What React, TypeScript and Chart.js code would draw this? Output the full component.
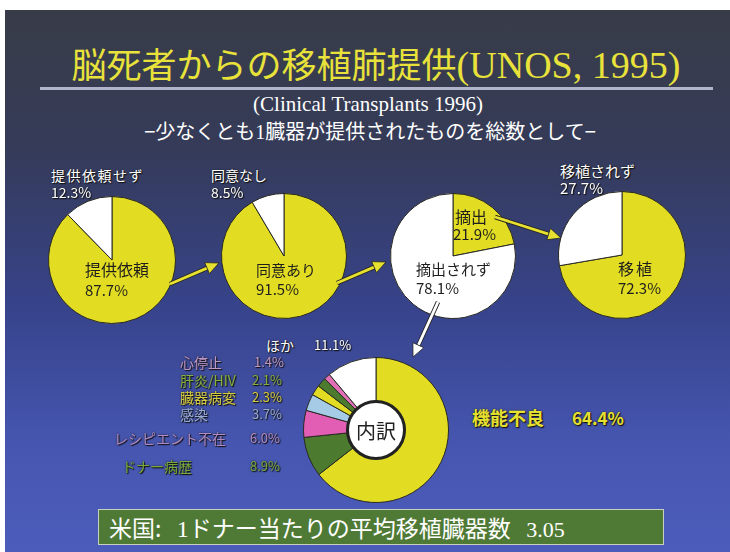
import React, { useEffect, useRef } from "react";
import { Chart, registerables } from "chart.js";

Chart.register(...registerables);

// ---- data ----
const requestLabels = ["提供依頼", "提供依頼せず"];
const requestValues = [87.7, 12.3];
const consentLabels = ["同意あり", "同意なし"];
const consentValues = [91.5, 8.5];
const procureLabels = ["摘出", "摘出されず"];
const procureValues = [21.9, 78.1];
const transplantLabels = ["移植", "移植されず"];
const transplantValues = [72.3, 27.7];
const reasonLabels = ["機能不良", "ドナー病歴", "レシピエント不在", "感染", "臓器病変", "肝炎/HIV", "心停止", "ほか"];
const reasonValues = [64.4, 8.9, 6.0, 3.7, 2.3, 2.1, 1.4, 11.1];
const avgOrgans = 3.05;

// ---- styles ----
const YELLOW = "#e2dd22";
const WHITE = "#ffffff";
const reasonColors = [YELLOW, "#4c7a2e", "#e25eb4", "#a6cbe6", YELLOW, "#4c7a2e", "#e070b6", WHITE];
const reasonTextColors = ["#e6e030", "#78a83a", "#b08ac8", "#98acd8", "#d6cc40", "#86b040", "#c098c8", "#ffffff"];

const JP = '"Noto Sans CJK JP", "Noto Sans", sans-serif';
const SERIF = '"Liberation Serif", "DejaVu Serif", serif';

function fmt(v: number) {
  return v.toFixed(1) + "%";
}

type PieProps = {
  labels: string[];
  values: number[];
  colors: string[];
  cx: number;
  cy: number;
  r: number;
  cutout?: string;
};

function Pie({ labels, values, colors, cx, cy, r, cutout }: PieProps) {
  const ref = useRef<HTMLCanvasElement | null>(null);
  const size = r * 2 + 2;
  useEffect(() => {
    if (!ref.current) return;
    const chart = new Chart(ref.current, {
      type: "doughnut",
      data: {
        labels,
        datasets: [
          {
            data: values,
            backgroundColor: colors,
            borderColor: "#2a2a22",
            borderWidth: 1,
          },
        ],
      },
      options: {
        cutout: cutout || 0,
        responsive: false,
        animation: false,
        events: [],
        layout: { padding: 0 },
        plugins: { legend: { display: false }, tooltip: { enabled: false } },
      },
    });
    return () => chart.destroy();
  }, []);
  return (
    <canvas
      ref={ref}
      width={size}
      height={size}
      style={{ position: "absolute", left: cx - size / 2, top: cy - size / 2, width: size, height: size }}
    />
  );
}

type LblProps = {
  x: number;
  y: number;
  text: string;
  color?: string;
  size?: number;
  shadow?: boolean;
  bold?: boolean;
  family?: string;
  spacing?: number;
};

function Lbl({ x, y, text, color = "#fff", size = 14, shadow = false, bold = false, family = JP, spacing = 0 }: LblProps) {
  return (
    <div
      style={{
        position: "absolute",
        left: x,
        top: y,
        color,
        fontSize: size,
        lineHeight: 1,
        fontFamily: family,
        fontWeight: bold ? 700 : 400,
        letterSpacing: spacing,
        whiteSpace: "nowrap",
        textShadow: shadow ? "1px 1px 1px #111, 0 0 2px #222" : "none",
      }}
    >
      {text}
    </div>
  );
}

function Arrow({ x1, y1, x2, y2, color }: { x1: number; y1: number; x2: number; y2: number; color: string }) {
  const ang = Math.atan2(y2 - y1, x2 - x1);
  const hl = 13;
  const hw = 6;
  const bx = x2 - hl * Math.cos(ang);
  const by = y2 - hl * Math.sin(ang);
  const px = -Math.sin(ang) * hw;
  const py = Math.cos(ang) * hw;
  const pts = `${x2},${y2} ${bx + px},${by + py} ${bx - px},${by - py}`;
  return (
    <g>
      <line x1={x1} y1={y1} x2={bx} y2={by} stroke="#222" strokeWidth={4.5} />
      <line x1={x1} y1={y1} x2={bx} y2={by} stroke={color} strokeWidth={2.8} />
      <polygon points={pts} fill={color} stroke="#222" strokeWidth={0.8} />
    </g>
  );
}

export default function App() {
  const legendRows = [
    { i: 6, x: 180, y: 355, vx: 254 },
    { i: 5, x: 180, y: 373, vx: 252 },
    { i: 4, x: 180, y: 390, vx: 252 },
    { i: 3, x: 180, y: 407, vx: 252 },
    { i: 2, x: 114, y: 431, vx: 250 },
    { i: 1, x: 122, y: 459, vx: 250 },
  ];
  return (
    <div style={{ position: "absolute", left: 0, top: 0, width: 730, height: 552, background: "#fff", overflow: "hidden" }}>
      <div
        style={{
          position: "absolute",
          left: 5,
          top: 10,
          width: 725,
          height: 542,
          background: "linear-gradient(to bottom, #383c48 0%, #353b58 25%, #37438b 55%, #4656b0 80%, #4c5cba 100%)",
        }}
      />
      {/* title */}
      <div
        style={{
          position: "absolute",
          left: 6,
          width: 740,
          top: 45,
          textAlign: "center",
          color: "#e8e23a",
          fontSize: 35,
          lineHeight: 1,
          whiteSpace: "nowrap",
          fontFamily: JP,
        }}
      >
        <span style={{ fontFamily: JP }}>脳死者からの移植肺提供</span>
        <span style={{ fontFamily: SERIF, fontSize: 38 }}>(UNOS, 1995)</span>
      </div>
      <div style={{ position: "absolute", left: 40, top: 87, width: 673, height: 3, background: "#b2b4cc" }} />
      <div
        style={{
          position: "absolute",
          left: 0,
          width: 736,
          top: 94,
          textAlign: "center",
          color: "#fff",
          fontSize: 21,
          lineHeight: 1,
          fontFamily: SERIF,
        }}
      >
        (Clinical Transplants 1996)
      </div>
      <div
        style={{
          position: "absolute",
          left: 0,
          width: 740,
          top: 121,
          textAlign: "center",
          color: "#fff",
          fontSize: 20,
          lineHeight: 1,
          fontFamily: JP,
          whiteSpace: "nowrap",
        }}
      >
        −少なくとも<span style={{ fontFamily: SERIF }}>1</span>臓器が提供されたものを総数として−
      </div>

      {/* pies */}
      <Pie labels={requestLabels} values={requestValues} colors={[YELLOW, WHITE]} cx={112} cy={260} r={63} />
      <Pie labels={consentLabels} values={consentValues} colors={[YELLOW, WHITE]} cx={284} cy={256} r={62} />
      <Pie labels={procureLabels} values={procureValues} colors={[YELLOW, WHITE]} cx={453} cy={256} r={62} />
      <Pie labels={transplantLabels} values={transplantValues} colors={[YELLOW, WHITE]} cx={622} cy={255} r={63} />
      <Pie labels={reasonLabels} values={reasonValues} colors={reasonColors} cx={376} cy={430} r={72} cutout="40%" />
      <div
        style={{
          position: "absolute",
          left: 376 - 30,
          top: 430 - 30,
          width: 54,
          height: 54,
          borderRadius: "50%",
          background: "#fff",
          border: "3px solid #222",
          display: "flex",
          alignItems: "center",
          justifyContent: "center",
          fontFamily: JP,
          fontSize: 20,
          color: "#222",
        }}
      >
        内訳
      </div>

      {/* pie labels */}
      <Lbl x={51} y={168} text={requestLabels[1]} shadow spacing={1.5} size={14} />
      <Lbl x={51} y={185} text={fmt(requestValues[1])} shadow size={14} />
      <Lbl x={85} y={261} text={requestLabels[0]} color="#1e1e1e" size={16} />
      <Lbl x={85} y={282} text={fmt(requestValues[0])} color="#1e1e1e" size={15} />

      <Lbl x={211} y={168} text={consentLabels[1]} shadow size={14} />
      <Lbl x={211} y={185} text={fmt(consentValues[1])} shadow size={14} />
      <Lbl x={256} y={262} text={consentLabels[0]} color="#1e1e1e" size={15} />
      <Lbl x={256} y={281} text={fmt(consentValues[0])} color="#1e1e1e" size={15} />

      <Lbl x={455} y={208} text={procureLabels[0]} color="#1e1e1e" size={16} />
      <Lbl x={453} y={226} text={fmt(procureValues[0])} color="#1e1e1e" size={15} />
      <Lbl x={416} y={261} text={procureLabels[1]} color="#1e1e1e" size={15} />
      <Lbl x={416} y={280} text={fmt(procureValues[1])} color="#1e1e1e" size={15} />

      <Lbl x={560} y={163} text={transplantLabels[1]} shadow size={15} />
      <Lbl x={560} y={180} text={fmt(transplantValues[1])} shadow size={15} />
      <Lbl x={618} y={260} text={transplantLabels[0]} color="#1e1e1e" size={16} spacing={2} />
      <Lbl x={618} y={280} text={fmt(transplantValues[0])} color="#1e1e1e" size={15} />

      {/* breakdown labels */}
      <Lbl x={266} y={338} text={reasonLabels[7]} shadow size={14} />
      <Lbl x={314} y={338} text={fmt(reasonValues[7])} shadow size={13} />
      {legendRows.map((row) => (
        <React.Fragment key={row.i}>
          <Lbl x={row.x} y={row.y} text={reasonLabels[row.i]} color={reasonTextColors[row.i]} shadow size={14} />
          <Lbl x={row.vx} y={row.y} text={fmt(reasonValues[row.i])} color={reasonTextColors[row.i]} shadow size={13} />
        </React.Fragment>
      ))}
      <Lbl x={472} y={408} text={reasonLabels[0]} color="#e6e030" shadow bold size={18} />
      <Lbl x={572} y={409} text={fmt(reasonValues[0])} color="#e6e030" shadow bold size={17} />

      {/* arrows */}
      <svg style={{ position: "absolute", left: 0, top: 0 }} width={730} height={552}>
        <Arrow x1={170} y1={284} x2={219} y2={263} color="#e6e030" />
        <Arrow x1={337} y1={283} x2={386} y2={262} color="#e6e030" />
        <Arrow x1={495} y1={217} x2={561} y2={238} color="#e6e030" />
        <Arrow x1={438} y1={302} x2={413} y2={357} color="#ffffff" />
      </svg>

      {/* bottom box */}
      <div
        style={{
          position: "absolute",
          left: 98,
          top: 509,
          width: 566,
          height: 36,
          background: "#4f7a36",
          border: "1px solid #c8d0c0",
          boxSizing: "border-box",
          color: "#fff",
          fontFamily: JP,
          fontSize: 23,
          lineHeight: "34px",
          paddingLeft: 10,
          whiteSpace: "nowrap",
        }}
      >
        米国:&nbsp;&nbsp;&nbsp;<span style={{ fontFamily: SERIF, fontSize: 24 }}>1</span>ドナー当たりの平均移植臓器数&nbsp;&nbsp;&nbsp;
        <span style={{ fontFamily: SERIF, fontSize: 22 }}>{avgOrgans.toFixed(2)}</span>
      </div>
    </div>
  );
}
